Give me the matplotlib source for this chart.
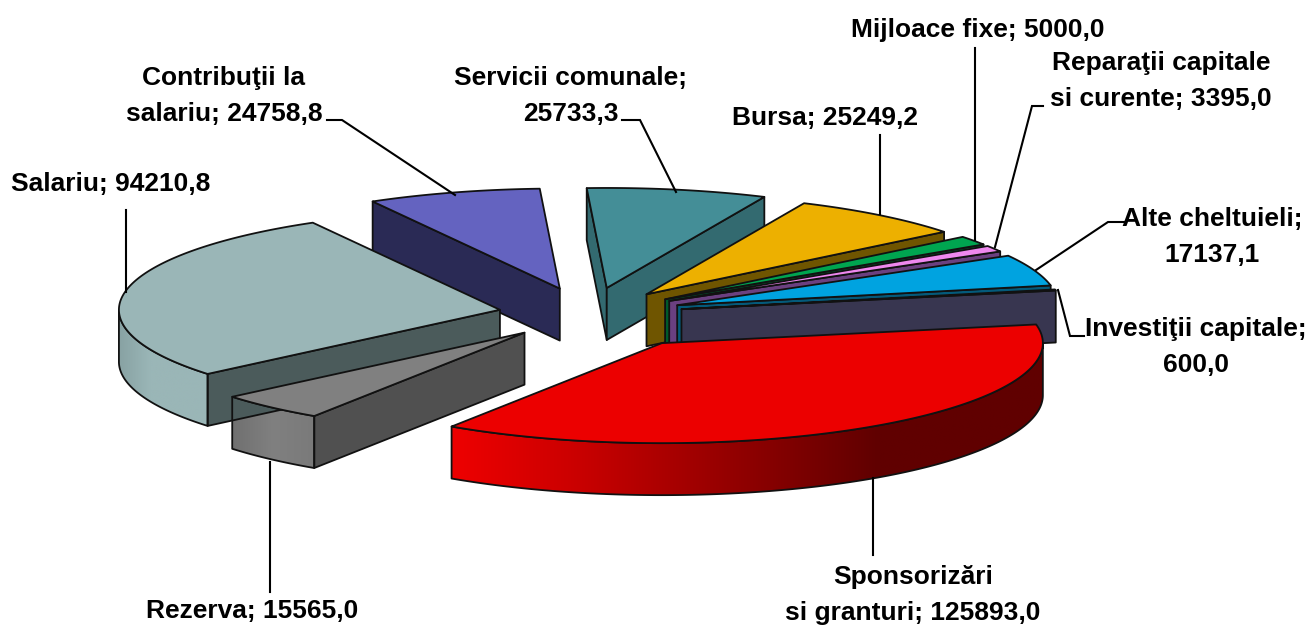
import matplotlib.pyplot as plt
import numpy as np
from matplotlib.colors import LinearSegmentedColormap
from matplotlib.patches import Polygon

CATEGORIES = [
    "Salariu", "Contribuţii la\nsalariu", "Servicii comunale", "Bursa", "Mijloace fixe",
    "Reparaţii capitale\nsi curente", "Alte cheltuieli", "Investiţii capitale",
    "Sponsorizări\nsi granturi", "Rezerva",
]
VALUES = [94210.8, 24758.8, 25733.3, 25249.2, 5000.0, 3395.0, 17137.1, 600.0, 125893.0, 15565.0]
VALUE_LABELS = [
    "94210,8", "24758,8", "25733,3", "25249,2", "5000,0",
    "3395,0", "17137,1", "600,0", "125893,0", "15565,0",
]
VALUE_ON_NEW_LINE = ["Servicii comunale", "Alte cheltuieli", "Investiţii capitale"]

FIGURE_SIZE = (13.11, 6.26)
CENTER = (588, 314)
RADIUS_X = 381
RADIUS_Y = 100
DEPTH = 52
START_ANGLE = 219.9
EXPLODE = [0.235, 0.265, 0.265, 0.25, 0.25, 0.25, 0.25, 0.25, 0.35, 0.25]

TOP_COLORS = [
    "#9ab6b7", "#6463c0", "#448e97", "#edb000", "#00a550",
    "#ee88ee", "#00a3e0", "#3a3850", "#ec0000", "#808080",
]
FACE_COLORS = [
    "#4b5b5b", "#2a2a55", "#336a70", "#6f5500", "#005a2a",
    "#6b4080", "#045a7a", "#383650", "#600000", "#505050",
]
WALL_STOPS = {
    0: [(0.0, "#88a2a3"), (0.35, "#9ab6b7"), (1.0, "#9ab6b7")],
    8: [(0.0, "#ee0000"), (0.2, "#cc0000"), (0.72, "#600000"), (1.0, "#600000")],
    9: [(0.0, "#707070"), (0.5, "#808080"), (1.0, "#7a7a7a")],
}
DRAW_ORDER = [1, 2, 3, 4, 5, 6, 7, 0, 9, 8]

TEXT_FONT = ["Liberation Sans", "DejaVu Sans"]
TEXT_SIZE = 19
LABEL_POSITIONS = [
    (111, 184), (224, 96), (571, 96), (825, 118), (978, 30),
    (1161, 81), (1212, 237), (1196, 347), (913, 595), (252, 611),
]
LEADERS = [
    [(126, 210), (126, 292)],
    [(327, 120), (342, 120), (455, 195)],
    [(622, 120), (640, 120), (676, 192)],
    [(880, 135), (880, 214)],
    [(975, 48), (975, 240)],
    [(1043, 106), (1032, 106), (995, 247)],
    [(1125, 222), (1108, 222), (1036, 270)],
    [(1084, 336), (1070, 336), (1058, 290)],
    [(873, 555), (873, 478)],
    [(270, 592), (270, 462)],
]


def ellipse_points(apex, angles):
    radians = np.radians(angles)
    return np.column_stack(
        [apex[0] + RADIUS_X * np.cos(radians), apex[1] - RADIUS_Y * np.sin(radians)]
    )


def extrude(points):
    return np.vstack([points, (points + [0, DEPTH])[::-1]])


def draw_slice(ax, index, high, low):
    middle = np.radians((high + low) / 2)
    apex = (
        CENTER[0] + EXPLODE[index] * RADIUS_X * np.cos(middle),
        CENTER[1] - EXPLODE[index] * RADIUS_Y * np.sin(middle),
    )
    apex_point = np.array([apex])
    edge_style = {"edgecolor": "#111111", "linewidth": 1.3, "joinstyle": "round"}

    # only the cut faces turned to the viewer are drawn
    faces = [(high, np.cos(np.radians(high)) < 0), (low, np.cos(np.radians(low)) > 0)]
    for angle, visible in faces:
        if visible:
            face = np.vstack([apex_point, ellipse_points(apex, np.array([angle]))])
            ax.add_patch(Polygon(extrude(face), facecolor=FACE_COLORS[index], **edge_style))

    arc = np.linspace(high, low, max(int((high - low) * 4), 8))
    front = arc[np.sin(np.radians(arc)) < 0]
    if len(front) > 1:
        wall = ellipse_points(apex, front)
        if wall[0, 0] > wall[-1, 0]:
            wall = wall[::-1]
        stops = WALL_STOPS.get(index, [(0.0, TOP_COLORS[index]), (1.0, TOP_COLORS[index])])
        cmap = LinearSegmentedColormap.from_list(f"wall{index}", stops)
        outline = extrude(wall)
        gradient = ax.imshow(
            np.linspace(0, 1, 256).reshape(1, -1),
            cmap=cmap,
            aspect="auto",
            extent=(wall[0, 0], wall[-1, 0], outline[:, 1].max(), outline[:, 1].min()),
            interpolation="bilinear",
        )
        gradient.set_clip_path(Polygon(outline, transform=ax.transData))
        ax.add_patch(Polygon(outline, facecolor="none", **edge_style))

    top = np.vstack([apex_point, ellipse_points(apex, arc)])
    ax.add_patch(Polygon(top, facecolor=TOP_COLORS[index], **edge_style))


def draw_chart():
    fig = plt.figure(figsize=FIGURE_SIZE, dpi=100)
    ax = fig.add_axes([0, 0, 1, 1])

    sweep = np.array(VALUES) / sum(VALUES) * 360
    highs = START_ANGLE - np.concatenate([[0], np.cumsum(sweep)[:-1]])
    lows = highs - sweep

    for index in DRAW_ORDER:
        draw_slice(ax, index, highs[index], lows[index])

    for leader in LEADERS:
        xs, ys = zip(*leader)
        ax.plot(xs, ys, color="black", linewidth=1.5, solid_joinstyle="miter", zorder=5)

    for name, value, (x, y) in zip(CATEGORIES, VALUE_LABELS, LABEL_POSITIONS):
        separator = ";\n" if name in VALUE_ON_NEW_LINE else "; "
        ax.text(x, y, f"{name}{separator}{value}", ha="center", va="center", family=TEXT_FONT,
                size=TEXT_SIZE, weight="bold", linespacing=1.65, zorder=6)

    ax.set_xlim(0, 1311)
    ax.set_ylim(626, 0)
    ax.axis("off")
    fig.savefig("out.png", dpi=100, facecolor="white")


if __name__ == "__main__":
    draw_chart()
